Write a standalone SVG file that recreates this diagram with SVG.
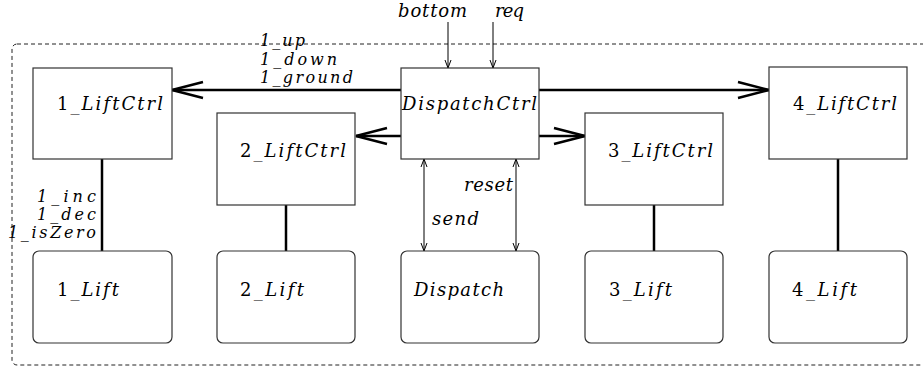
<svg xmlns="http://www.w3.org/2000/svg" width="923" height="373" viewBox="0 0 923 373">
<style>
text{font-family:"DejaVu Serif","Liberation Serif",serif;font-size:18px;font-style:italic;fill:#000}
.up{font-style:normal}
.lbl{font-size:16px}
.box{fill:#fff;stroke:#333;stroke-width:1.2}
.thick{stroke:#000;stroke-width:2.5;fill:none}
.thin{stroke:#000;stroke-width:1;fill:none}
.frame{fill:none;stroke:#222;stroke-width:1;stroke-dasharray:4 3}
</style>
<defs>
<marker id="big" markerUnits="userSpaceOnUse" markerWidth="40" markerHeight="24" refX="0" refY="0" viewBox="-34 -12 36 24" orient="auto" overflow="visible">
<path d="M-31,-8 L0,0 L-31,8" fill="none" stroke="#000" stroke-width="2.5" stroke-linejoin="miter"/>
</marker>
<marker id="small" markerUnits="userSpaceOnUse" markerWidth="12" markerHeight="10" refX="0" refY="0" viewBox="-10 -5 12 10" orient="auto-start-reverse" overflow="visible">
<path d="M-8,-3 L0,0 L-8,3" fill="none" stroke="#000" stroke-width="1"/>
</marker>
</defs>
<rect x="0" y="0" width="923" height="373" fill="#fff"/>
<rect class="frame" x="12" y="44" width="925" height="321" rx="5"/>

<g id="connectors">
<line class="thick" x1="401" y1="90" x2="172" y2="90" marker-end="url(#big)"/>
<line class="thick" x1="539" y1="90" x2="769" y2="90" marker-end="url(#big)"/>
<line class="thick" x1="401" y1="136" x2="356" y2="136" marker-end="url(#big)"/>
<line class="thick" x1="539" y1="136" x2="585" y2="136" marker-end="url(#big)"/>
<line class="thin" x1="448" y1="22" x2="448" y2="68" marker-end="url(#small)"/>
<line class="thin" x1="493" y1="22" x2="493" y2="68" marker-end="url(#small)"/>
<line class="thin" x1="424" y1="159" x2="424" y2="251" marker-start="url(#small)" marker-end="url(#small)"/>
<line class="thin" x1="516" y1="159" x2="516" y2="251" marker-start="url(#small)" marker-end="url(#small)"/>
<line class="thick" x1="102" y1="159" x2="102" y2="251"/>
<line class="thick" x1="286" y1="205" x2="286" y2="251"/>
<line class="thick" x1="654" y1="205" x2="654" y2="251"/>
<line class="thick" x1="838" y1="159" x2="838" y2="251"/>
<text x="398" y="17" textLength="69" lengthAdjust="spacing">bottom</text>
<text x="495" y="17" textLength="29" lengthAdjust="spacing">req</text>
<text class="lbl" x="260" y="46" textLength="45" lengthAdjust="spacing">1_up</text>
<text class="lbl" x="260" y="65" textLength="77" lengthAdjust="spacing">1_down</text>
<text class="lbl" x="260" y="83" textLength="93" lengthAdjust="spacing">1_ground</text>
<text class="lbl" x="37" y="202" textLength="59" lengthAdjust="spacing">1_inc</text>
<text class="lbl" x="37" y="220" textLength="59" lengthAdjust="spacing">1_dec</text>
<text class="lbl" x="8" y="238" textLength="88" lengthAdjust="spacing">1_isZero</text>
<text x="464" y="191" textLength="49" lengthAdjust="spacing">reset</text>
<text x="432" y="225" textLength="47" lengthAdjust="spacing">send</text>
</g>

<g id="n1ctrl"><rect class="box" x="33" y="68" width="139" height="91"/><text x="57" y="110" textLength="106" lengthAdjust="spacing"><tspan class="up">1_</tspan>LiftCtrl</text></g>
<g id="n2ctrl"><rect class="box" x="217" y="113" width="138" height="92"/><text x="240" y="157" textLength="106" lengthAdjust="spacing"><tspan class="up">2_</tspan>LiftCtrl</text></g>
<g id="ndispctrl"><rect class="box" x="401" y="68" width="138" height="91"/><text x="402" y="110" textLength="135" lengthAdjust="spacing">DispatchCtrl</text></g>
<g id="n3ctrl"><rect class="box" x="585" y="113" width="138" height="92"/><text x="608" y="157" textLength="105" lengthAdjust="spacing"><tspan class="up">3_</tspan>LiftCtrl</text></g>
<g id="n4ctrl"><rect class="box" x="769" y="67" width="138" height="92"/><text x="793" y="110" textLength="104" lengthAdjust="spacing"><tspan class="up">4_</tspan>LiftCtrl</text></g>

<g id="n1lift"><rect class="box" x="33" y="251" width="139" height="92" rx="6"/><text x="57" y="296" textLength="62" lengthAdjust="spacing"><tspan class="up">1_</tspan>Lift</text></g>
<g id="n2lift"><rect class="box" x="217" y="251" width="138" height="92" rx="6"/><text x="240" y="296" textLength="64" lengthAdjust="spacing"><tspan class="up">2_</tspan>Lift</text></g>
<g id="ndisp"><rect class="box" x="401" y="251" width="138" height="92" rx="6"/><text x="414" y="296" textLength="90" lengthAdjust="spacing">Dispatch</text></g>
<g id="n3lift"><rect class="box" x="585" y="251" width="138" height="92" rx="6"/><text x="609" y="296" textLength="63" lengthAdjust="spacing"><tspan class="up">3_</tspan>Lift</text></g>
<g id="n4lift"><rect class="box" x="769" y="251" width="138" height="92" rx="6"/><text x="792" y="296" textLength="65" lengthAdjust="spacing"><tspan class="up">4_</tspan>Lift</text></g>
</svg>
